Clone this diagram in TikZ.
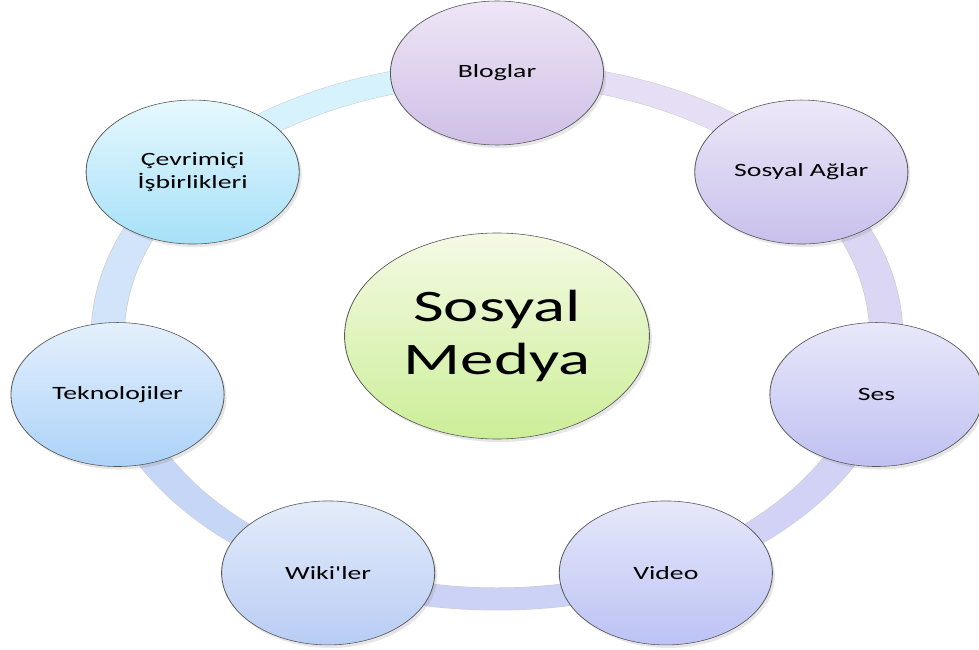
\documentclass[tikz,border=0pt]{standalone}
\usepackage{fontspec}
\setmainfont{Carlito}
\usepackage{tikz}
\usetikzlibrary{shadows, backgrounds}

\definecolor{blogTop}{HTML}{EEE6F6}  \definecolor{blogBot}{HTML}{CFBFE6}
\definecolor{agTop}{HTML}{ECE8F8}    \definecolor{agBot}{HTML}{C8C0EC}
\definecolor{sesTop}{HTML}{E8E8FA}   \definecolor{sesBot}{HTML}{C0C0F2}
\definecolor{vidTop}{HTML}{E6E8FA}   \definecolor{vidBot}{HTML}{BCC2F4}
\definecolor{wikiTop}{HTML}{E4ECFA}  \definecolor{wikiBot}{HTML}{B8CCF4}
\definecolor{tekTop}{HTML}{E4F0FC}   \definecolor{tekBot}{HTML}{ACD2F8}
\definecolor{cevTop}{HTML}{E6F8FE}   \definecolor{cevBot}{HTML}{A6E0F8}
\definecolor{hubTop}{HTML}{F4FAE4}   \definecolor{hubBot}{HTML}{CCEE98}

\begin{document}
\begin{tikzpicture}[
        x=0.3mm, y=0.3mm,
        every node/.style={circle, draw=black!65, line width=0.5pt, minimum size=43.2mm, inner sep=0pt,
            align=center, font=\fontsize{16}{19}\selectfont,
            drop shadow={shadow xshift=0.5mm, shadow yshift=-0.9mm, opacity=0.2}},
        hub/.style={minimum size=61.8mm, font=\fontsize{38.5}{45}\selectfont},
        band/.style={draw=black!20, line width=0.4pt, double distance=6.6mm}
    ]
    \useasboundingbox (-497,-314) rectangle (482,336);

    \begin{scope}[transform canvas={xscale=1.48}]
        % Düğümler
        \node (medya) at (0,0) [hub, top color=hubTop, bottom color=hubBot] {Sosyal\\Medya};
        \node (bloglar) at (90:263) [top color=blogTop, bottom color=blogBot] {Bloglar};
        \node (aglar) at (38.57:263) [top color=agTop, bottom color=agBot] {Sosyal Ağlar};
        \node (ses) at (-12.86:263) [top color=sesTop, bottom color=sesBot] {Ses};
        \node (video) at (-64.29:263) [top color=vidTop, bottom color=vidBot] {Video};
        \node (wiki) at (-115.71:263) [top color=wikiTop, bottom color=wikiBot] {Wiki\textquotesingle ler};
        \node (tekno) at (-167.14:263) [top color=tekTop, bottom color=tekBot] {Teknolojiler};
        \node (cevrim) at (141.43:263) [top color=cevTop, bottom color=cevBot] {Çevrimiçi\\İşbirlikleri};
    \end{scope}

    \begin{pgfonlayer}{background}
    \begin{scope}[transform canvas={xscale=1.48}]
        % Halka
        \draw[band, double={rgb,255:red,230;green,222;blue,244}] (bloglar.center) arc[start angle=90, delta angle=-51.43, radius=263];
        \draw[band, double={rgb,255:red,218;green,214;blue,244}] (aglar.center) arc[start angle=38.57, delta angle=-51.43, radius=263];
        \draw[band, double={rgb,255:red,210;green,210;blue,246}] (ses.center) arc[start angle=-12.86, delta angle=-51.43, radius=263];
        \draw[band, double={rgb,255:red,204;green,210;blue,246}] (video.center) arc[start angle=-64.29, delta angle=-51.43, radius=263];
        \draw[band, double={rgb,255:red,198;green,214;blue,246}] (wiki.center) arc[start angle=-115.71, delta angle=-51.43, radius=263];
        \draw[band, double={rgb,255:red,210;green,228;blue,250}] (tekno.center) arc[start angle=-167.14, delta angle=-51.43, radius=263];
        \draw[band, double={rgb,255:red,214;green,242;blue,252}] (cevrim.center) arc[start angle=141.43, delta angle=-51.43, radius=263];
    \end{scope}
    \end{pgfonlayer}
\end{tikzpicture}
\end{document}
